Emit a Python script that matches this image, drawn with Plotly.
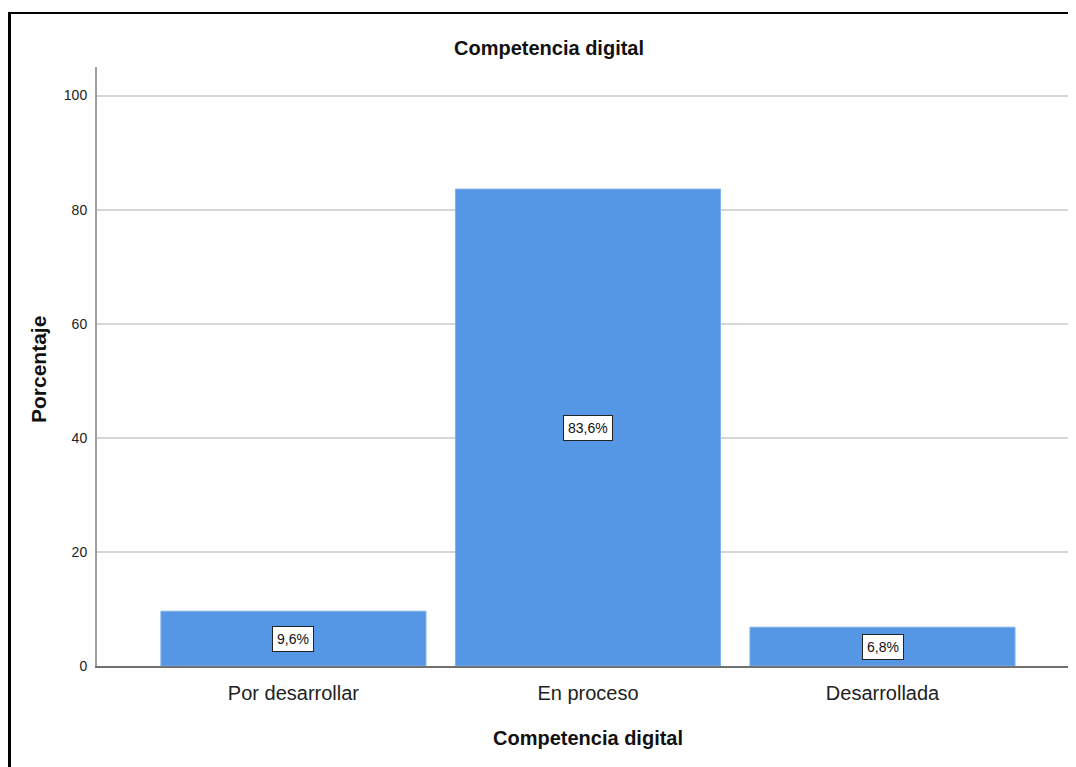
import plotly.graph_objects as go

categories = ["Por desarrollar", "En proceso", "Desarrollada"]
percentages = [9.6, 83.6, 6.8]
labels = ["9,6%", "83,6%", "6,8%"]
y_ticks = [0, 20, 40, 60, 80, 100]

OFF = 8  # browser body margin
W, H = 1076 - OFF, 767 - OFF
L, R, T, B = 97 - OFF, 0, 67 - OFF, 101
pw, ph = W - L - R, H - T - B

def px_x(p):
    return (p - OFF - L) / pw

def px_y(p):
    return (H - B - (p - OFF)) / ph

font = "Liberation Sans, Arial, sans-serif"

fig = go.Figure()
fig.add_trace(go.Bar(
    x=list(range(len(categories))), y=percentages,
    marker=dict(color="#5596E5", line=dict(color="#7FB0EE", width=1)),
    width=0.9, hoverinfo="skip",
))

for i, (v, t) in enumerate(zip(percentages, labels)):
    fig.add_annotation(x=i, y=v / 2, text=t, showarrow=False,
                       font=dict(family=font, size=14, color="#111"),
                       bgcolor="white", bordercolor="#222", borderwidth=1, borderpad=4)

fig.add_annotation(xref="paper", yref="paper", x=px_x(549), y=px_y(48), text="<b>Competencia digital</b>",
                   showarrow=False, font=dict(family=font, size=20, color="#111"), xanchor="center", yanchor="middle")
fig.add_annotation(xref="paper", yref="paper", x=px_x(588), y=px_y(738), text="<b>Competencia digital</b>",
                   showarrow=False, font=dict(family=font, size=20, color="#111"), xanchor="center", yanchor="middle")
fig.add_annotation(xref="paper", yref="paper", x=px_x(38), y=px_y(370), text="<b>Porcentaje</b>", textangle=-90,
                   showarrow=False, font=dict(family=font, size=21, color="#111"), xanchor="center", yanchor="middle")

# outer frame (left and top edges visible)
fig.add_shape(type="line", xref="paper", yref="paper", x0=px_x(9.5), x1=px_x(9.5), y0=px_y(800), y1=px_y(12),
              line=dict(color="black", width=3))
fig.add_shape(type="line", xref="paper", yref="paper", x0=px_x(8), x1=px_x(1100), y0=px_y(13), y1=px_y(13),
              line=dict(color="black", width=2))

fig.update_layout(
    width=W, height=H, margin=dict(l=L, r=R, t=T, b=B),
    paper_bgcolor="white", plot_bgcolor="white", showlegend=False,
    xaxis=dict(range=[-0.667, 2.657], tickmode="array", tickvals=list(range(len(categories))),
               ticktext=categories, showgrid=False, zeroline=False, showline=True,
               linecolor="#707070", linewidth=2, ticks="", ticklabelstandoff=8,
               tickfont=dict(family=font, size=20, color="#222")),
    yaxis=dict(range=[0, 105], tickmode="array", tickvals=y_ticks, showgrid=True,
               gridcolor="#D6D6D6", gridwidth=2, zeroline=False, showline=True,
               linecolor="#A0A0A0", linewidth=2, ticks="", ticklabelstandoff=5,
               tickfont=dict(family=font, size=14, color="#222")),
)

fig.write_html("out.html")
